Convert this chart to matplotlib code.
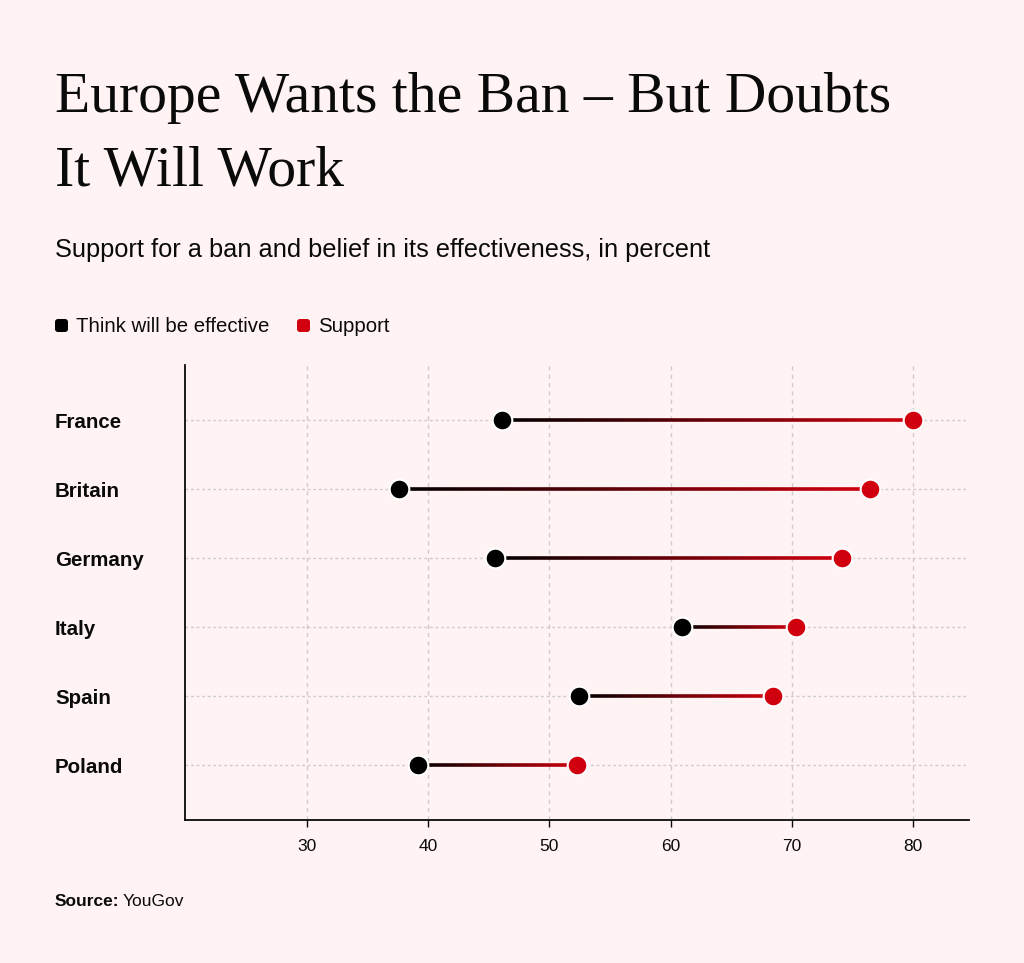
import numpy as np
import matplotlib
matplotlib.use("Agg")
import matplotlib.pyplot as plt
from matplotlib.collections import LineCollection
from matplotlib.colors import LinearSegmentedColormap
from matplotlib.patches import FancyBboxPatch
from matplotlib.transforms import blended_transform_factory

countries = ["France", "Britain", "Germany", "Italy", "Spain", "Poland"]
effective = [46.1, 37.6, 45.5, 60.9, 52.4, 39.2]
support = [80.0, 76.4, 74.1, 70.3, 68.4, 52.3]
x_ticks = [30, 40, 50, 60, 70, 80]

BG = "#FFF3F3"
RED = "#D0000E"
BLACK = "#000000"
INK = "#0A0A0A"
SANS = ["Liberation Sans", "DejaVu Sans"]
W, H = 1024, 963

plt.rcParams["font.family"] = SANS

fig = plt.figure(figsize=(W / 100, H / 100), dpi=100, facecolor=BG)
ax = fig.add_axes([185 / W, 1 - 820 / H, (969 - 185) / W, (820 - 365) / H])
ax.set_facecolor(BG)

cmap = LinearSegmentedColormap.from_list("grad", [BLACK, RED])
y = np.arange(len(countries))

# gradient connector from "effective" to "support"
for yi, e, s in zip(y, effective, support):
    xs = np.linspace(e, s, 120)
    pts = np.column_stack([xs, np.full_like(xs, yi)])
    segs = np.stack([pts[:-1], pts[1:]], axis=1)
    lc = LineCollection(segs, cmap=cmap, linewidth=2.6, zorder=2, capstyle="butt")
    lc.set_array(np.linspace(0, 1, len(segs)))
    ax.add_collection(lc)

ax.scatter(effective, y, s=200, color=BLACK, edgecolor="white", linewidth=1.5, zorder=3)
ax.scatter(support, y, s=200, color=RED, edgecolor="white", linewidth=1.5, zorder=3)

ax.set_xlim(19.95, 84.6)
ax.set_ylim(len(countries) - 1 + 0.79, -0.8)

ax.set_xticks(x_ticks)
ax.set_xticklabels([str(t) for t in x_ticks], fontsize=12.5)
ax.set_yticks(y)
ax.set_yticklabels([])
ax.tick_params(axis="x", length=5, width=1, pad=9, colors=INK)
ax.tick_params(axis="y", length=0)

label_tr = blended_transform_factory(fig.transFigure, ax.transData)
for c, yi in zip(countries, y):
    fig.text(55 / W, yi + 0.03, c, fontsize=14.8, fontweight="bold", va="center",
             ha="left", color=INK, transform=label_tr)

for t in x_ticks:
    ax.axvline(t, color="#CCCCCC", linestyle=(0, (3, 3)), linewidth=1, zorder=0)
for yi in y:
    ax.axhline(yi, color="#CCCCCC", linestyle=(0, (2, 2)), linewidth=1, zorder=0)

for side in ["top", "right"]:
    ax.spines[side].set_visible(False)
for side in ["left", "bottom"]:
    ax.spines[side].set_linewidth(1.3)
    ax.spines[side].set_color(INK)

# title and subtitle
serif = ["Liberation Serif", "DejaVu Serif"]
fig.text(55 / W, 1 - 112 / H, "Europe Wants the Ban – But Doubts", fontsize=41.5,
         family=serif, color=INK, va="baseline", ha="left")
fig.text(55 / W, 1 - 185 / H, "It Will Work", fontsize=41.5,
         family=serif, color=INK, va="baseline", ha="left")
fig.text(55 / W, 1 - 257 / H, "Support for a ban and belief in its effectiveness, in percent",
         fontsize=18.3, color=INK, va="baseline", ha="left")

# legend
for x0, col, label in [(55, BLACK, "Think will be effective"), (297, RED, "Support")]:
    box = FancyBboxPatch((x0 / W, 1 - 332 / H), 13 / W, 13 / H,
                         boxstyle="round,pad=0,rounding_size=0.003",
                         transform=fig.transFigure, facecolor=col, edgecolor="none")
    fig.add_artist(box)
    fig.text((x0 + 21) / W, 1 - 326 / H, label, fontsize=14.7, color=INK,
             va="center", ha="left")

# source
fig.text(55 / W, 1 - 906 / H, "Source:", fontsize=12.5, fontweight="bold",
         color=INK, va="baseline", ha="left")
fig.text(123 / W, 1 - 906 / H, "YouGov", fontsize=12.5, color=INK,
         va="baseline", ha="left")

fig.savefig("out.png", dpi=100, facecolor=BG)
